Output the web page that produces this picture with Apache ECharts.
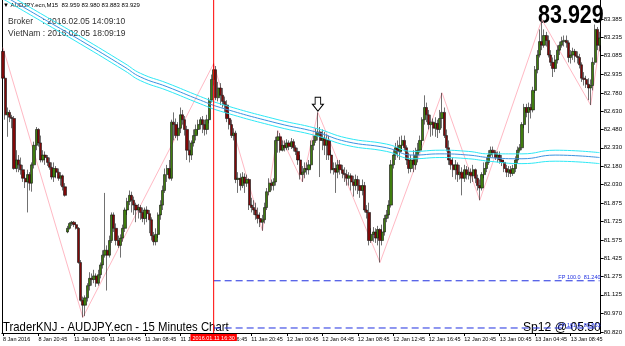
<!DOCTYPE html>
<html>
<head>
<meta charset="utf-8">
<title>AUDJPY M15</title>
<script src="https://cdn.jsdelivr.net/npm/echarts/dist/echarts.min.js"></script>
<style>
  html, body { margin: 0; padding: 0; background: #fff; }
  #chart { width: 625px; height: 346px; }
</style>
</head>
<body>
<div id="chart"></div>
<script>
// M15 bars, 8 Jan 16:45 .. 13 Jan 12:00 (weekend skipped after bar 28)
const opens = [
  83.12,82.90,82.60,82.62,82.58,82.57,82.16,82.23,82.19,82.15,
  82.08,82.05,82.11,82.04,82.19,82.35,82.48,82.37,82.23,82.27,
  82.25,82.21,82.17,82.09,82.16,82.13,82.08,82.10,82.01,81.64,
  81.67,81.71,81.72,81.70,81.67,81.39,81.08,81.04,81.10,81.20,
  81.26,81.25,81.28,81.22,81.29,81.37,81.45,81.49,81.45,81.57,
  81.78,81.67,81.57,81.53,81.59,81.67,81.82,81.89,81.94,81.90,
  81.86,81.82,81.84,81.80,81.75,81.82,81.79,81.74,81.61,81.56,
  81.62,81.78,81.86,81.98,82.11,82.16,82.08,82.54,82.52,82.43,
  82.49,82.60,82.56,82.48,82.31,82.27,82.37,82.43,82.48,82.52,
  82.56,82.52,82.48,82.56,82.72,82.89,82.97,82.74,82.82,82.76,
  82.71,82.68,82.57,82.52,82.43,82.45,82.07,82.08,82.02,82.09,
  82.04,82.07,81.86,81.84,81.82,81.78,81.75,81.72,81.74,81.84,
  81.97,82.04,82.02,82.05,82.39,82.42,82.31,82.35,82.33,82.37,
  82.34,82.38,82.33,82.30,82.23,82.11,82.13,82.16,82.15,82.19,
  82.35,82.39,82.43,82.46,82.39,82.41,82.35,82.39,82.27,82.15,
  82.16,82.13,82.19,82.15,82.12,82.11,82.08,82.10,82.05,82.02,
  82.07,82.02,81.98,82.02,81.82,81.80,81.57,81.62,81.64,81.59,
  81.66,81.57,81.64,81.75,81.78,81.86,82.19,82.27,82.33,82.30,
  82.35,82.39,82.33,82.23,82.16,82.23,82.19,82.27,82.31,82.39,
  82.56,82.66,82.60,82.52,82.54,82.49,82.53,82.48,82.57,82.62,
  82.43,82.33,82.23,82.19,82.15,82.19,82.11,82.13,82.08,82.15,
  82.11,82.13,82.10,82.15,82.08,82.02,82.00,82.11,82.16,82.21,
  82.27,82.31,82.29,82.25,82.27,82.23,82.21,82.16,82.13,82.15,
  82.12,82.16,82.23,82.31,82.33,82.52,82.66,82.62,82.66,82.64,
  82.80,82.97,83.09,83.20,83.17,83.25,83.21,83.09,83.03,82.98,
  83.05,83.13,83.17,83.20,83.21,83.19,83.07,83.09,83.12,83.08,
  83.07,83.01,82.90,82.89,82.85,82.82,82.84,83.03,83.30,83.17
];
const closes = [
  82.90,82.60,82.62,82.58,82.57,82.16,82.23,82.19,82.15,82.08,
  82.05,82.11,82.04,82.19,82.35,82.48,82.37,82.23,82.27,82.25,
  82.21,82.17,82.09,82.16,82.13,82.08,82.10,82.01,81.94,81.67,
  81.71,81.72,81.70,81.67,81.39,81.08,81.04,81.10,81.20,81.26,
  81.25,81.28,81.22,81.29,81.37,81.45,81.49,81.45,81.57,81.78,
  81.67,81.57,81.53,81.59,81.67,81.82,81.89,81.94,81.90,81.86,
  81.82,81.84,81.80,81.75,81.82,81.79,81.74,81.61,81.56,81.62,
  81.78,81.86,81.98,82.11,82.16,82.08,82.54,82.52,82.43,82.49,
  82.60,82.56,82.48,82.31,82.27,82.37,82.43,82.48,82.52,82.56,
  82.52,82.48,82.56,82.72,82.89,82.97,82.74,82.82,82.76,82.71,
  82.68,82.57,82.52,82.43,82.45,82.07,82.08,82.02,82.09,82.04,
  82.07,81.86,81.84,81.82,81.78,81.75,81.72,81.74,81.84,81.97,
  82.04,82.02,82.05,82.39,82.42,82.31,82.35,82.33,82.37,82.34,
  82.38,82.33,82.30,82.23,82.11,82.13,82.16,82.15,82.19,82.35,
  82.39,82.43,82.46,82.39,82.41,82.35,82.39,82.27,82.15,82.16,
  82.13,82.19,82.15,82.12,82.11,82.08,82.10,82.05,82.02,82.07,
  82.02,81.98,82.02,81.82,81.80,81.57,81.62,81.64,81.59,81.66,
  81.57,81.64,81.75,81.78,81.86,82.19,82.27,82.33,82.30,82.35,
  82.39,82.33,82.23,82.16,82.23,82.19,82.27,82.31,82.39,82.56,
  82.66,82.60,82.52,82.54,82.49,82.53,82.48,82.57,82.62,82.43,
  82.33,82.23,82.19,82.15,82.19,82.11,82.13,82.08,82.15,82.11,
  82.13,82.10,82.15,82.08,82.02,82.00,82.11,82.16,82.21,82.27,
  82.31,82.29,82.25,82.27,82.23,82.21,82.16,82.13,82.15,82.12,
  82.16,82.23,82.31,82.33,82.52,82.66,82.62,82.66,82.64,82.80,
  82.97,83.09,83.20,83.17,83.25,83.21,83.09,83.03,82.98,83.05,
  83.13,83.17,83.20,83.21,83.19,83.07,83.09,83.12,83.08,83.07,
  83.01,82.90,82.89,82.85,82.82,82.84,83.03,83.30,83.17,83.23
];
const lows = [
  82.89,82.56,82.42,82.54,82.49,82.15,82.13,82.13,82.11,82.05,
  82.00,81.80,81.98,81.97,82.16,82.31,82.34,82.21,82.21,82.19,
  82.18,82.15,82.07,82.05,82.08,82.06,82.02,81.98,81.93,81.63,
  81.66,81.69,81.68,81.66,81.38,81.07,80.94,80.95,81.07,81.16,
  81.20,81.22,81.19,81.20,81.26,81.34,81.43,81.16,81.43,81.55,
  81.64,81.53,81.51,81.43,81.56,81.64,81.78,81.86,81.80,81.78,
  81.72,81.75,81.74,81.72,81.70,81.72,81.63,81.57,81.53,81.53,
  81.59,81.74,81.82,81.96,82.05,82.07,82.06,82.39,82.41,82.39,
  82.45,82.52,82.43,82.23,82.21,82.23,82.34,82.39,82.44,82.48,
  82.45,82.43,82.44,82.53,82.70,82.84,82.72,82.71,82.68,82.66,
  82.62,82.54,82.48,82.41,82.39,82.04,81.96,81.98,82.00,81.96,
  82.01,81.82,81.80,81.78,81.74,81.71,81.68,81.65,81.71,81.82,
  81.94,81.98,81.98,82.02,82.29,82.29,82.30,82.30,82.31,82.31,
  82.32,82.30,82.27,82.19,82.07,82.05,82.08,82.11,82.11,82.16,
  82.31,82.37,82.39,82.09,82.31,82.27,82.23,82.23,82.12,82.11,
  81.96,82.08,82.11,82.08,82.05,82.02,82.02,81.98,81.93,81.98,
  81.95,81.92,81.94,81.80,81.75,81.53,81.55,81.56,81.55,81.53,
  81.39,81.53,81.61,81.72,81.75,81.84,82.16,82.23,82.25,82.23,
  82.30,82.30,82.19,82.12,82.13,82.13,82.15,82.21,82.29,82.35,
  82.52,82.54,82.48,82.42,82.43,82.42,82.41,82.45,82.49,82.41,
  82.30,82.19,82.15,82.09,82.07,82.05,82.07,81.94,82.05,82.07,
  82.07,82.04,82.05,82.04,81.98,81.90,81.98,82.08,82.13,82.19,
  82.25,82.25,82.23,82.21,82.20,82.18,82.13,82.09,82.09,82.09,
  82.10,82.13,82.20,82.29,82.31,82.49,82.58,82.45,82.57,82.62,
  82.78,82.94,83.07,83.13,83.15,83.16,83.07,83.00,82.91,82.95,
  83.02,83.09,83.15,83.16,83.15,83.03,83.02,83.05,83.03,83.02,
  82.98,82.87,82.84,82.82,82.72,82.68,82.80,83.01,83.13,83.12
];
const highs = [
  83.15,82.92,82.66,82.64,82.60,82.59,82.31,82.27,82.25,82.19,
  82.13,82.15,82.13,82.21,82.38,82.50,82.49,82.43,82.31,82.30,
  82.27,82.25,82.21,82.21,82.18,82.16,82.13,82.11,82.04,81.69,
  81.72,81.73,81.73,81.71,81.68,81.41,81.11,81.12,81.22,81.31,
  81.30,81.33,81.30,81.33,81.39,81.49,81.96,81.53,81.61,81.80,
  81.80,81.71,81.61,81.62,81.70,81.84,81.92,81.98,81.97,81.93,
  81.88,81.87,81.86,81.84,81.84,81.85,81.82,81.76,81.64,81.67,
  81.80,81.90,82.02,82.16,82.19,82.23,82.56,82.62,82.57,82.54,
  82.66,82.64,82.59,82.51,82.39,82.39,82.48,82.52,82.56,82.58,
  82.59,82.56,82.60,82.74,82.93,83.02,83.00,82.87,82.86,82.82,
  82.75,82.72,82.62,82.56,82.49,82.47,82.13,82.12,82.13,82.12,
  82.11,82.08,81.92,81.90,81.88,81.84,81.80,81.78,81.88,82.00,
  82.08,82.07,82.08,82.42,82.47,82.45,82.39,82.39,82.40,82.39,
  82.41,82.40,82.35,82.33,82.27,82.18,82.21,82.21,82.23,82.39,
  82.43,82.49,82.62,82.50,82.48,82.46,82.44,82.43,82.31,82.21,
  82.21,82.23,82.23,82.19,82.17,82.15,82.13,82.12,82.10,82.11,
  82.10,82.07,82.07,82.05,81.86,81.88,81.67,81.68,81.67,81.69,
  81.67,81.70,81.78,81.82,81.90,82.23,82.31,82.37,82.39,82.42,
  82.43,82.43,82.35,82.29,82.27,82.31,82.33,82.37,82.43,82.58,
  82.76,82.70,82.64,82.60,82.57,82.58,82.56,82.64,82.78,82.66,
  82.48,82.39,82.30,82.25,82.23,82.21,82.19,82.17,82.19,82.18,
  82.17,82.16,82.19,82.16,82.11,82.07,82.13,82.21,82.25,82.31,
  82.34,82.34,82.31,82.30,82.30,82.27,82.23,82.19,82.18,82.18,
  82.19,82.26,82.34,82.36,82.54,82.69,82.69,82.70,82.69,82.83,
  83.00,83.13,83.30,83.38,83.30,83.28,83.25,83.13,83.07,83.09,
  83.17,83.20,83.24,83.25,83.25,83.21,83.13,83.15,83.14,83.12,
  83.10,83.03,82.95,82.92,82.90,82.89,83.07,83.34,83.32,83.28
];

// price ticks on the right scale
const yTickLabels = ['80.820','80.970','81.125','81.275','81.425','81.575','81.725','81.875','82.030',
  '82.180','82.330','82.480','82.630','82.780','82.935','83.085','83.235','83.385'];
// one time label every 16 bars
const xTickLabels = ['8 Jan 2016','8 Jan 20:45','11 Jan 00:45','11 Jan 04:45','11 Jan 08:45','11 Jan 12:45',
  '11 Jan 16:45','11 Jan 20:45','12 Jan 00:45','12 Jan 04:45','12 Jan 08:45','12 Jan 12:45',
  '12 Jan 16:45','12 Jan 20:45','13 Jan 00:45','13 Jan 04:45','13 Jan 08:45'];

// moving average envelope, read at a few bars
const maIdx   = [0, 17, 35, 55, 62, 74, 89, 98, 124, 141, 155, 173, 185, 197, 210, 219, 234, 249, 269];
const maUpper = [83.61,83.43,83.24,83.02,82.94,82.86,82.75,82.69,82.56,82.49,82.41,82.36,82.30,82.31,82.30,82.28,82.28,82.31,82.29];
const maMid   = [83.58,83.40,83.21,82.99,82.91,82.83,82.72,82.66,82.53,82.46,82.38,82.33,82.27,82.28,82.27,82.25,82.24,82.27,82.25];
const maLower = [83.55,83.37,83.18,82.96,82.88,82.80,82.69,82.63,82.50,82.43,82.35,82.30,82.24,82.25,82.24,82.22,82.20,82.22,82.20];

// zigzag swing points
const zzIdx = [0, 36, 95, 117, 124, 135, 142, 170, 198, 215, 243, 265, 269];
const zzVal = [83.15, 80.94, 83.02, 81.65, 82.47, 82.05, 82.62, 81.39, 82.78, 81.90, 83.38, 82.68, 83.17];

const markBar = 95;             // 2016.01.11 16:30
const markTime = '2016.01.11 16:30';
const fpLevels = [81.240, 80.853];
const fpLabels = ['FP 100.0  81.240', 'FP 161.8  80.853'];
const arrowBar = 142;

const cats = opens.map((_, i) => String(i));
const candles = opens.map((o, i) => [o, closes[i], lows[i], highs[i]]);
const pairs = (idx, vals) => idx.map((x, i) => [x, vals[i]]);

const FONT = 'Liberation Sans, Arial, sans-serif';
const chart = echarts.init(document.getElementById('chart'), null, { renderer: 'canvas' });

const yMin = 80.812, yMax = 83.541;
const lastBar = opens.length - 1;

const maLine = (name, vals, color) => ({
  name, type: 'line', data: pairs(maIdx, vals), smooth: true, symbol: 'none', z: 4,
  lineStyle: { color, width: 1 }, silent: true
});

// fibo projection level: dashed line from the marked bar to the last bar, label at its right end
const fpLine = (lv, text) => ({
  type: 'line', symbol: 'circle', symbolSize: 0, z: 5, silent: true,
  lineStyle: { color: '#1f2fe0', width: 1, type: [7, 4] },
  itemStyle: { color: '#1f2fe0' },
  data: [
    { value: [markBar, lv] },
    { value: [lastBar, lv], label: { show: true, position: 'top', align: 'right', offset: [1, 1], distance: 1,
      formatter: text, color: '#1f2fe0', fontSize: 5.5, fontFamily: FONT } }
  ]
});

chart.setOption({
  animation: false,
  backgroundColor: '#fff',
  grid: { left: 1, right: 23, top: 0, bottom: 13, containLabel: false },
  xAxis: {
    type: 'category', data: cats, boundaryGap: true,
    axisLine: { lineStyle: { color: '#000', width: 1 } },
    axisTick: { show: true, length: 3, alignWithLabel: true, interval: (i) => i % 16 === 0, lineStyle: { color: '#000' } },
    axisLabel: {
      interval: (i) => i % 16 === 0,
      formatter: (v, i) => xTickLabels[Math.round(i / 16)] || '',
      align: 'left', fontSize: 5.5, fontFamily: FONT, color: '#000', margin: 3
    },
    splitLine: { show: false }
  },
  yAxis: [{
    type: 'value', position: 'right', min: yMin, max: yMax, scale: true,
    axisLine: { show: true, lineStyle: { color: '#000', width: 1 } },
    axisTick: { show: true, length: 3, customValues: yTickLabels.map(Number), lineStyle: { color: '#000' } },
    axisLabel: {
      customValues: yTickLabels.map(Number),
      formatter: (v) => yTickLabels.find(s => Math.abs(Number(s) - v) < 1e-6) || v.toFixed(3),
      fontSize: 6, fontFamily: FONT, color: '#000', margin: 3
    },
    splitLine: { show: false }
  }, {
    type: 'value', position: 'left', min: yMin, max: yMax,
    axisLine: { show: true, lineStyle: { color: '#000', width: 1 } },
    axisTick: { show: false }, axisLabel: { show: false }, splitLine: { show: false }
  }],
  series: [
    {
      name: 'zigzag', type: 'line', data: pairs(zzIdx, zzVal), symbol: 'none', z: 1,
      lineStyle: { color: '#ffb9c4', width: 1 }, silent: true
    },
    {
      name: 'AUDJPY', type: 'candlestick', data: candles, barWidth: 2.7, z: 3,
      itemStyle: { color: '#3f7d0e', color0: '#800808', borderColor: '#111', borderColor0: '#111', borderWidth: 0.6 },
      markPoint: {
        silent: true,
        data: [{
          coord: [arrowBar, highs[arrowBar]],
          symbol: 'path://M3,0 L9,0 L9,7 L12,7 L6,14 L0,7 L3,7 Z',
          symbolSize: [11, 14], symbolOffset: [0, '-58%'],
          itemStyle: { color: '#fff', borderColor: '#000', borderWidth: 1 },
          label: { show: false }
        }]
      }
    },
    maLine('upper', maUpper, '#2ee8f5'),
    maLine('mid', maMid, '#3b93e0'),
    maLine('lower', maLower, '#2ee8f5'),
    // red vertical time marker
    {
      name: 'marker', type: 'line', symbol: 'circle', symbolSize: 0, z: 6, silent: true, clip: false,
      lineStyle: { color: '#ff0000', width: 1 }, itemStyle: { color: '#ff0000' },
      data: [
        { value: [markBar, yMin], label: { show: true, position: 'bottom', distance: 1, formatter: markTime,
          color: '#fff', backgroundColor: '#ff0000', padding: [1, 2, 0, 2], fontSize: 5.5, fontFamily: FONT } },
        { value: [markBar, yMax] }
      ]
    },
    ...fpLevels.map((lv, k) => fpLine(lv, fpLabels[k]))
  ],
  graphic: [
    { type: 'text', left: 3, top: 2, style: { text: '\u25BC AUDJPY.ecn,M15  83.959 83.980 83.883 83.929', fontSize: 6, fontFamily: FONT, fill: '#000' } },
    { type: 'text', left: 8, top: 17, style: { text: 'Broker    : 2016.02.05 14:09:10', fontSize: 8.5, fontFamily: FONT, fill: '#333' } },
    { type: 'text', left: 8, top: 29, style: { text: 'VietNam : 2016.02.05 18:09:19', fontSize: 8.5, fontFamily: FONT, fill: '#333' } },
    { type: 'text', x: 538, y: 4, scaleX: 0.86, style: { text: '83.929', fontSize: 25, fontWeight: 'bold', fontFamily: FONT, fill: '#000' } },
    { type: 'text', x: 3, y: 320, scaleX: 0.84, style: { text: 'TraderKNJ - AUDJPY.ecn - 15 Minutes Chart', fontSize: 13.5, fontFamily: FONT, fill: '#000' } },
    { type: 'text', x: 523, y: 320, scaleX: 0.9, style: { text: 'Sp12 @ 05:50', fontSize: 13.5, fontFamily: FONT, fill: '#000' } }
  ]
});
</script>
</body>
</html>
